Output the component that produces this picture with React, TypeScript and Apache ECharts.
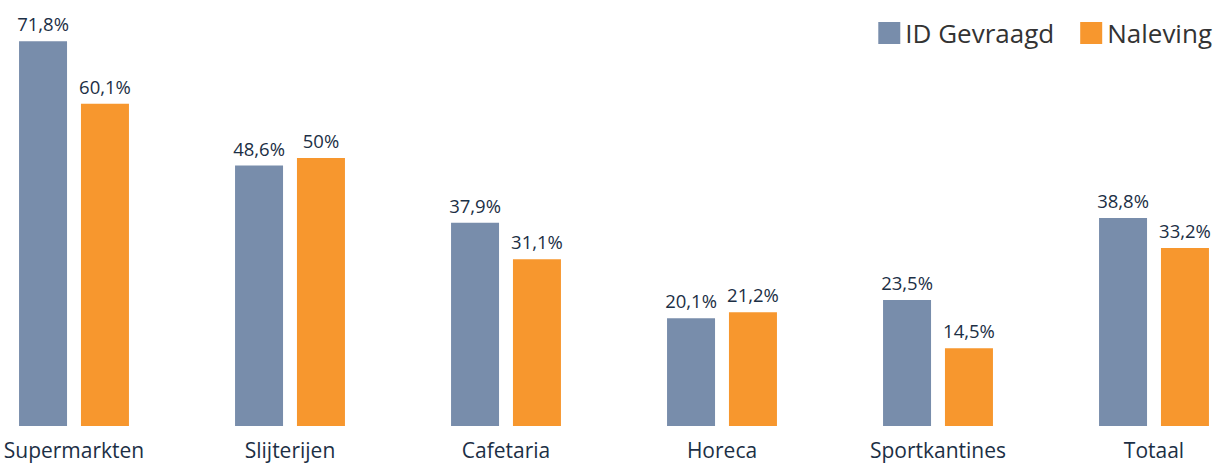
import React, { useEffect, useRef } from "react";
import * as echarts from "echarts";

const categories = ["Supermarkten", "Slijterijen", "Cafetaria", "Horeca", "Sportkantines", "Totaal"];
const idGevraagd = [71.8, 48.6, 37.9, 20.1, 23.5, 38.8];
const naleving = [60.1, 50, 31.1, 21.2, 14.5, 33.2];
const seriesNames = ["ID Gevraagd", "Naleving"];

const FONT = "'Open Sans', Lato, sans-serif";
const fmt = (v: number) => String(v).replace(".", ",") + "%";

export default function App() {
  const ref = useRef<HTMLDivElement>(null);
  useEffect(() => {
    if (!ref.current) return;
    const chart = echarts.init(ref.current, undefined, { renderer: "svg" });
    const label = {
      show: true,
      position: "top" as const,
      distance: 8,
      color: "#1c2f45",
      fontSize: 18.5,
      fontFamily: FONT,
      formatter: (p: any) => fmt(p.value),
    };
    chart.setOption({
      animation: false,
      backgroundColor: "#ffffff",
      grid: { left: 74, right: 66, top: 24, bottom: 38, containLabel: false },
      legend: {
        right: 3,
        top: 15,
        itemWidth: 22,
        itemHeight: 22,
        itemGap: 26,
        icon: "rect",
        textStyle: { fontSize: 26, color: "#333333", fontFamily: FONT, padding: [0, 0, 0, 0] },
        data: seriesNames,
      },
      xAxis: {
        type: "category",
        data: categories,
        boundaryGap: false,
        axisLine: { show: false },
        axisTick: { show: false },
        axisLabel: { color: "#1c2f45", fontSize: 21, fontFamily: FONT, margin: 13, interval: 0 },
      },
      yAxis: {
        type: "value",
        min: 0,
        max: 75,
        show: false,
        splitLine: { show: false },
      },
      series: [
        {
          name: seriesNames[0],
          type: "bar",
          data: idGevraagd,
          barWidth: 48,
          barGap: "29%",
          clip: false,
          itemStyle: { color: "#788dab" },
          label,
        },
        {
          name: seriesNames[1],
          type: "bar",
          data: naleving,
          barWidth: 48,
          clip: false,
          itemStyle: { color: "#f7972e" },
          label,
        },
      ],
    });
    return () => chart.dispose();
  }, []);
  return (
    <div
      ref={ref}
      style={{ position: "absolute", left: 0, top: 0, width: 1220, height: 464 }}
    />
  );
}
